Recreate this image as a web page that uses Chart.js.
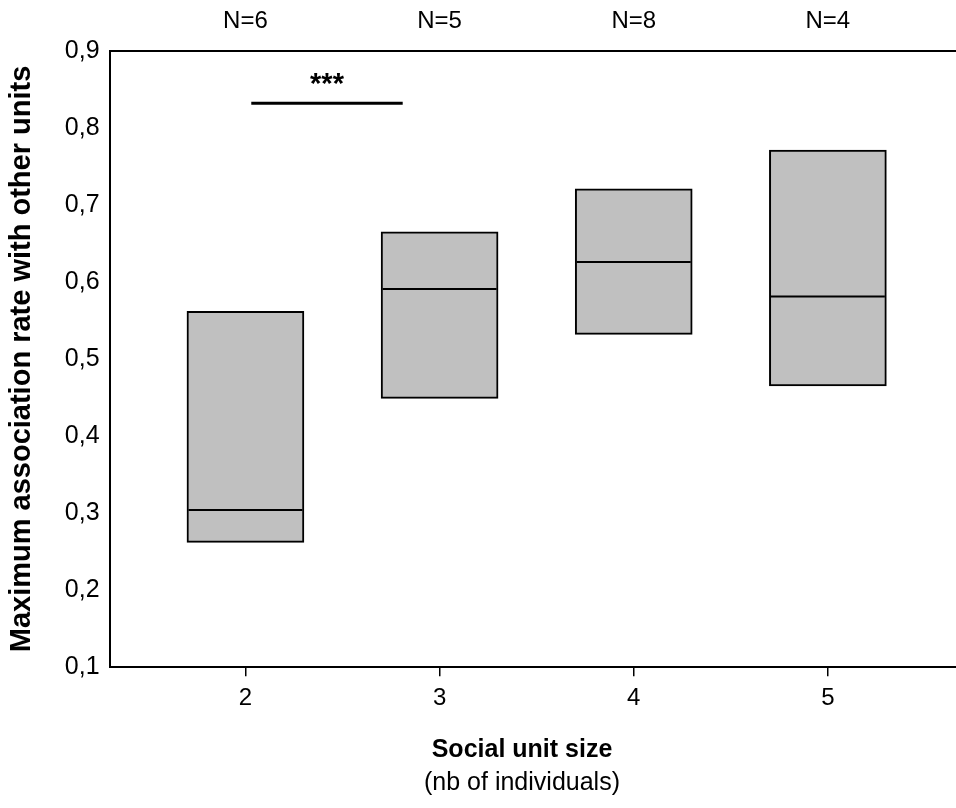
<!DOCTYPE html>
<html>
<head>
<meta charset="utf-8">
<script src="https://cdn.jsdelivr.net/npm/chart.js@4.4.0/dist/chart.umd.min.js"></script>
<style>
  html, body { margin: 0; padding: 0; background: #ffffff; overflow: hidden; }
  canvas { display: block; }
</style>
</head>
<body>
<canvas id="c" width="956" height="808"></canvas>
<script>
// ---- data ----
const categories = [2, 3, 4, 5];
const sampleSizes = ['N=6', 'N=5', 'N=8', 'N=4'];
const boxLow = [0.262, 0.449, 0.532, 0.465];
const boxHigh = [0.562, 0.665, 0.721, 0.771];
const medians = [0.304, 0.591, 0.626, 0.581];
const yTicks = [0.1, 0.2, 0.3, 0.4, 0.5, 0.6, 0.7, 0.8, 0.9];
const sigFrom = 2.03, sigTo = 2.81, sigLevel = 0.832, sigLabel = '***';
const yTitle = 'Maximum association rate with other units';
const xTitle = 'Social unit size';
const xSubtitle = '(nb of individuals)';

const FONT = "'Liberation Sans', Arial, sans-serif";
const XMIN = 1.30, XMAX = 5.66;

const annotations = {
  id: 'annotations',
  afterDatasetsDraw(chart) {
    const ctx = chart.ctx;
    const xs = chart.scales.x, ys = chart.scales.y;
    ctx.save();
    // significance bar
    const yl = ys.getPixelForValue(sigLevel);
    ctx.strokeStyle = '#000';
    ctx.lineWidth = 3;
    ctx.beginPath();
    ctx.moveTo(xs.getPixelForValue(sigFrom), yl);
    ctx.lineTo(xs.getPixelForValue(sigTo), yl);
    ctx.stroke();
    ctx.fillStyle = '#000';
    ctx.font = 'bold 29px ' + FONT;
    ctx.textAlign = 'center';
    ctx.textBaseline = 'alphabetic';
    ctx.fillText(sigLabel, xs.getPixelForValue((sigFrom + sigTo) / 2), yl - 10);
    // x axis titles
    const cx = 522;
    ctx.textBaseline = 'middle';
    ctx.font = 'bold 25px ' + FONT;
    ctx.fillText(xTitle, cx, 750);
    ctx.font = '25px ' + FONT;
    ctx.fillText(xSubtitle, cx, 783);
    ctx.restore();
  }
};

new Chart(document.getElementById('c'), {
  type: 'bar',
  data: {
    datasets: [
      {
        type: 'bar',
        order: 1,
        data: categories.map((c, i) => ({ x: c, y: [boxLow[i], boxHigh[i]] })),
        backgroundColor: '#c0c0c0',
        borderColor: '#000000',
        borderWidth: 2,
        borderSkipped: false,
        barThickness: 117,
        xAxisID: 'x',
        yAxisID: 'y'
      },
      {
        type: 'scatter',
        order: 0,
        data: categories.map((c, i) => ({ x: c, y: medians[i] })),
        pointStyle: 'line',
        radius: 57,
        hoverRadius: 57,
        borderColor: '#000000',
        borderWidth: 2,
        showLine: false,
        xAxisID: 'x',
        yAxisID: 'y'
      }
    ]
  },
  options: {
    responsive: false,
    animation: false,
    events: [],
    layout: { autoPadding: false, padding: { left: 5, top: -8, right: 0, bottom: 87 } },
    plugins: {
      legend: { display: false },
      tooltip: { enabled: false }
    },
    scales: {
      x: {
        type: 'linear',
        position: 'bottom',
        min: XMIN,
        max: XMAX,
        offset: false,
        afterBuildTicks: (axis) => { axis.ticks = categories.map(v => ({ value: v })); },
        ticks: {
          color: '#000',
          font: { family: FONT, size: 24 },
          padding: 8,
          callback: (v) => String(v)
        },
        grid: { display: true, offset: false, drawOnChartArea: false, drawTicks: true, tickLength: 9, color: '#000', lineWidth: 1.5 },
        border: { display: true, color: '#000', width: 2 }
      },
      x2: {
        type: 'linear',
        position: 'top',
        min: XMIN,
        max: XMAX,
        offset: false,
        afterBuildTicks: (axis) => { axis.ticks = categories.map(v => ({ value: v })); },
        ticks: {
          color: '#000',
          font: { family: FONT, size: 24 },
          padding: 15,
          callback: (v) => sampleSizes[categories.indexOf(v)]
        },
        grid: { display: false, offset: false, drawTicks: false },
        border: { display: true, color: '#000', width: 2 }
      },
      y: {
        type: 'linear',
        min: 0.1,
        max: 0.9,
        afterBuildTicks: (axis) => { axis.ticks = yTicks.map(v => ({ value: v })); },
        ticks: {
          color: '#000',
          font: { family: FONT, size: 25 },
          padding: 10,
          callback: (v) => v.toFixed(1).replace('.', ',')
        },
        grid: { display: false, drawTicks: false },
        border: { display: true, color: '#000', width: 2 },
        title: {
          display: true,
          text: yTitle,
          color: '#000',
          font: { family: FONT, size: 29, weight: 'bold' },
          padding: { top: 0, bottom: 15 }
        }
      }
    }
  },
  plugins: [annotations]
});
</script>
</body>
</html>
